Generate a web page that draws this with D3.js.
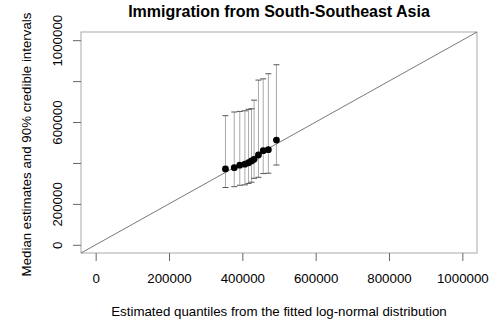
<!DOCTYPE html>
<html lang="en">
<head>
    <meta charset="UTF-8">
    <script src="https://d3js.org/d3.v7.min.js"></script>
    <title>Immigration from South-Southeast Asia</title>
    <style>
        body {
            margin: 0;
            background: #fff;
            font-family: "Liberation Sans", Arial, sans-serif;
        }
        text {
            fill: #000;
        }
    </style>
</head>

<body>
<div id="chart"></div>
<script>

    // values
    var quantiles = [354000, 378000, 393000, 407000, 417000, 425000, 432000, 444000, 457000, 471000, 493000];
    var medians   = [371000, 377000, 389000, 394000, 401000, 410000, 418000, 439000, 460000, 465000, 512000];
    var lower     = [280000, 284000, 291000, 293000, 300000, 306000, 325000, 330000, 348000, 350000, 390000];
    var upper     = [631000, 649000, 652000, 655000, 662000, 665000, 707000, 805000, 811000, 836000, 880000];
    var xTicks = [0, 200000, 400000, 600000, 800000, 1000000];
    var yTicks = [0, 200000, 400000, 600000, 800000, 1000000];
    // R drops the y labels that would overlap
    var yTickLabels = ["0", "200000", "", "600000", "", "1000000"];

    var data = quantiles.map(function(q, i) {
        return {q: q, m: medians[i], lo: lower[i], hi: upper[i]};
    });

    var W = 490, H = 321;
    var box = {left: 81, right: 477, top: 32, bottom: 253};
    var fs = 13.3;

    var svg = d3.select("#chart")
        .append("svg")
        .attr("width", W)
        .attr("height", H);

    // R style 4% padding on both axes
    var x = d3.scaleLinear()
        .domain([-40000, 1040000])
        .range([box.left, box.right]);
    var y = d3.scaleLinear()
        .domain([-40000, 1040000])
        .range([box.bottom, box.top]);

    // plot box
    svg.append("rect")
        .attr("x", box.left)
        .attr("y", box.top)
        .attr("width", box.right - box.left)
        .attr("height", box.bottom - box.top)
        .attr("fill", "none")
        .attr("stroke", "#aaa")
        .attr("stroke-width", 1);

    // x axis
    var xAxis = svg.append("g")
        .attr("transform", "translate(0," + box.bottom + ")")
        .call(d3.axisBottom(x).tickValues(xTicks).tickFormat(d3.format("d")).tickSize(8));
    xAxis.select(".domain").remove();
    xAxis.selectAll("line").attr("stroke", "#666");
    xAxis.selectAll("text")
        .attr("font-family", "Liberation Sans, Arial, sans-serif")
        .attr("font-size", fs)
        .attr("fill", "#000")
        .attr("y", 30)
        .attr("dy", null);

    // y axis, labels parallel to the axis
    var yAxis = svg.append("g")
        .attr("transform", "translate(" + box.left + ",0)")
        .call(d3.axisLeft(y).tickValues(yTicks)
            .tickFormat(function(d, i) { return yTickLabels[i]; })
            .tickSize(8));
    yAxis.select(".domain").remove();
    yAxis.selectAll("line").attr("stroke", "#666");
    yAxis.selectAll("text")
        .attr("font-family", "Liberation Sans, Arial, sans-serif")
        .attr("font-size", fs)
        .attr("fill", "#000")
        .attr("x", null)
        .attr("dy", null)
        .attr("text-anchor", "middle")
        .attr("transform", "translate(-19,0) rotate(-90)");

    // reference line y = x
    svg.append("line")
        .attr("x1", x(-40000)).attr("y1", y(-40000))
        .attr("x2", x(1040000)).attr("y2", y(1040000))
        .attr("stroke", "#555")
        .attr("stroke-width", 0.8);

    // credible intervals
    var bars = svg.append("g");
    bars.selectAll(".stem")
        .data(data)
        .enter().append("line")
        .attr("x1", function(d) { return x(d.q); })
        .attr("x2", function(d) { return x(d.q); })
        .attr("y1", function(d) { return y(d.lo); })
        .attr("y2", function(d) { return y(d.hi); })
        .attr("stroke", "#aaa")
        .attr("stroke-width", 1);

    ["lo", "hi"].forEach(function(k) {
        bars.selectAll(".cap-" + k)
            .data(data)
            .enter().append("line")
            .attr("x1", function(d) { return x(d.q) - 3; })
            .attr("x2", function(d) { return x(d.q) + 3; })
            .attr("y1", function(d) { return y(d[k]); })
            .attr("y2", function(d) { return y(d[k]); })
            .attr("stroke", "#555")
            .attr("stroke-width", 1);
    });

    // medians
    svg.append("g").selectAll("circle")
        .data(data)
        .enter().append("circle")
        .attr("cx", function(d) { return x(d.q); })
        .attr("cy", function(d) { return y(d.m); })
        .attr("r", 3.4)
        .attr("fill", "#000");

    // titles
    svg.append("text")
        .attr("x", (box.left + box.right) / 2)
        .attr("y", 17)
        .attr("text-anchor", "middle")
        .attr("font-size", 16)
        .attr("font-weight", "bold")
        .text("Immigration from South-Southeast Asia");

    svg.append("text")
        .attr("x", (box.left + box.right) / 2)
        .attr("y", 316)
        .attr("text-anchor", "middle")
        .attr("font-size", fs)
        .text("Estimated quantiles from the fitted log-normal distribution");

    svg.append("text")
        .attr("transform", "translate(31," + ((box.top + box.bottom) / 2 + 2) + ") rotate(-90)")
        .attr("text-anchor", "middle")
        .attr("font-size", fs)
        .text("Median estimates and 90% credible intervals");

</script>
</body>
</html>
